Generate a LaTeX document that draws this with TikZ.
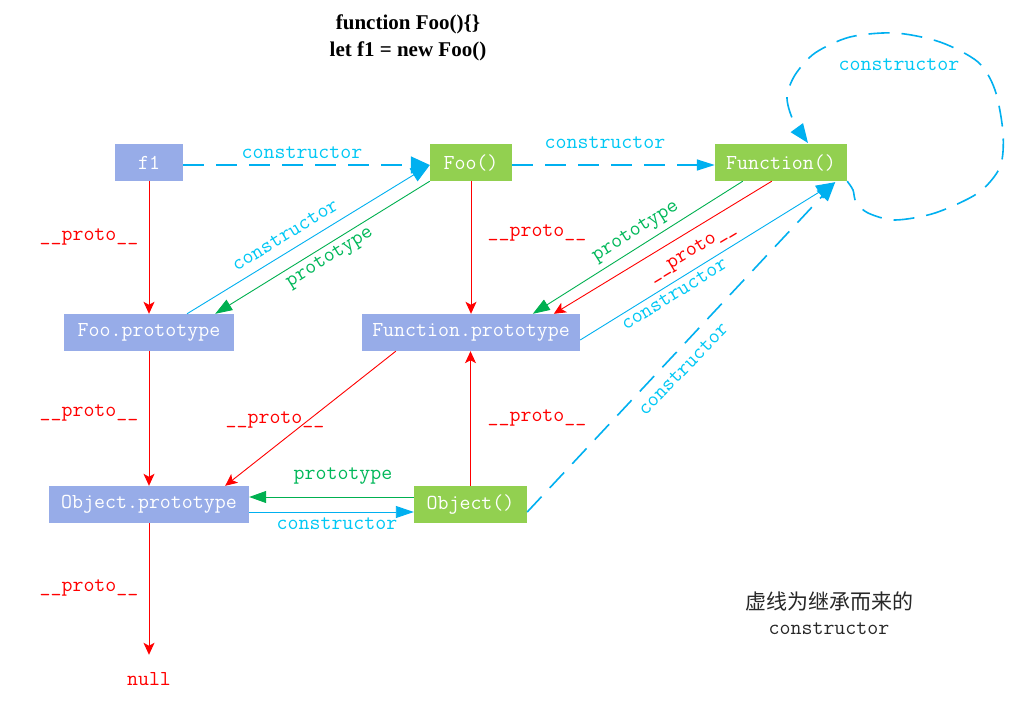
\documentclass[tikz,border=0pt]{standalone}
\usepackage{fontspec}
\newfontfamily\titlefont{Liberation Serif}
\newfontfamily\cjkfont{Noto Sans CJK SC}
\usetikzlibrary{arrows.meta}
\definecolor{boxblue}{RGB}{151,172,232}
\definecolor{boxgreen}{RGB}{146,208,80}
\definecolor{lncyan}{RGB}{0,176,240}
\definecolor{labcyan}{RGB}{0,200,245}
\definecolor{lngreen}{RGB}{0,176,80}
\definecolor{labgreen}{RGB}{0,184,90}
\definecolor{lnred}{RGB}{255,0,0}
\definecolor{notegray}{RGB}{40,40,40}
\begin{document}
\begin{tikzpicture}[x=1pt,y=-1pt,
  mono/.style={font=\fontsize{21.3}{24}\selectfont\ttfamily},
  protobox/.style={mono,fill=boxblue,text=white,minimum height=37pt,inner sep=0pt},
  funcbox/.style={mono,fill=boxgreen,text=white,minimum height=37pt,inner sep=0pt},
  cyanlab/.style={mono,text=labcyan,inner sep=0pt},
  greenlab/.style={mono,text=labgreen,inner sep=0pt},
  redlab/.style={mono,text=lnred,inner sep=0pt},
  redarrow/.style={draw=lnred,line width=0.9pt,-{Stealth[length=12pt,width=11pt,inset=3pt]}},
  cyanarrow/.style={draw=lncyan,line width=0.9pt,-{Triangle[length=19pt,width=15pt]}},
  greenarrow/.style={draw=lngreen,line width=0.9pt,-{Triangle[length=17pt,width=12pt]}},
  inherit/.style={draw=lncyan,line width=1.6pt,dash pattern=on 21pt off 12pt},
]
\fill[white] (0,0) rectangle (1018,722);
\useasboundingbox (0,0) rectangle (1018,722);

% title
\node[font=\titlefont\bfseries\fontsize{21}{27}\selectfont,align=center,inner sep=0pt] (title) at (408,38)
  {function Foo()\{\}\\let f1 = new Foo()};

% nodes
\node[protobox,minimum width=68pt] (f1) at (149,162.5) {f1};
\node[funcbox,minimum width=82pt] (foo) at (471,162.5) {Foo()};
\node[funcbox,minimum width=132pt] (fn) at (781,162.5) {Function()};
\node[protobox,minimum width=170pt] (foop) at (149,332.5) {Foo.prototype};
\node[protobox,minimum width=218pt] (fnp) at (471,332.5) {Function.prototype};
\node[protobox,minimum width=200pt] (objp) at (149,504.5) {Object.prototype};
\node[funcbox,minimum width=113pt] (obj) at (470.5,504.5) {Object()};
\node[mono,text=lnred,anchor=base,inner sep=0pt] (null) at (149,685) {null};

% dashed inherited constructors
\draw[inherit,-{Triangle[length=19pt,width=17pt]}] ([yshift=-2.5pt]f1.east) -- ([yshift=-2.5pt]foo.west);
\draw[inherit,-{Triangle[length=18pt,width=11pt]}] ([yshift=-2.5pt]foo.east) -- ([yshift=-2.5pt]fn.west);
\draw[inherit,-{Triangle[length=19pt,width=15pt]}] ([yshift=-7.5pt]obj.east) -- ([xshift=-12pt,yshift=-1pt]fn.south east);
\draw[inherit,-{Triangle[length=19pt,width=15pt]}] plot[smooth] coordinates {(fn.south east) (853,190) (856,202) (868,213) (895,220) (935,213) (978,193) (1000,167) (1003,133) (995,90) (978,62) (940,42) (895,33) (850,37) (815,53) (795,75) (787,97) (793,120) (808,143)};

% solid connectors
\draw[redarrow] (f1.south) -- (foop.north);
\draw[greenarrow] (foo.south west) -- ([xshift=-19pt]foop.north east);
\draw[cyanarrow] ([xshift=38pt]foop.north) -- ([yshift=-2.5pt]foo.west);
\draw[redarrow] (foo.south) -- (fnp.north);
\draw[greenarrow] ([xshift=28pt]fn.south west) -- ([xshift=171pt]fnp.north west);
\draw[redarrow] ([xshift=57pt]fn.south west) -- ([xshift=192pt]fnp.north west);
\draw[cyanarrow] ([yshift=-7.5pt]fnp.east) -- ([xshift=-12pt,yshift=-1pt]fn.south east);
\draw[redarrow] ([xshift=34pt]fnp.south west) -- ([xshift=-24pt]objp.north east);
\draw[redarrow] (obj.north) -- (obj.north |- fnp.south);
\draw[redarrow] (foop.south) -- (objp.north);
\draw[greenarrow] ([yshift=7.5pt]obj.west) -- ([yshift=7.5pt]objp.east);
\draw[cyanarrow,-{Triangle[length=18pt,width=12pt]}] ([yshift=-7.5pt]objp.east) -- ([yshift=-7.5pt]obj.west);
\draw[redarrow] (objp.south) -- ([yshift=17pt]null.north);

% labels
\node[cyanlab] (l1) at (302,153) {constructor};
\node[cyanlab] (l2) at (605,143) {constructor};
\node[cyanlab] (l3) at (899,65) {constructor};
\node[cyanlab,rotate=31.5] (l4) at (285,235) {constructor};
\node[greenlab,rotate=32] (l5) at (330,258) {prototype};
\node[greenlab,rotate=32.5] (l6) at (636,232) {prototype};
\node[redlab,rotate=31] (l7) at (692,252) {\_\_proto\_\_};
\node[cyanlab,rotate=31.8] (l8) at (674,294) {constructor};
\node[cyanlab,rotate=46] (l9) at (683,369) {constructor};
\node[redlab] (p1) at (89,237) {\_\_proto\_\_};
\node[redlab] (p2) at (537,233) {\_\_proto\_\_};
\node[redlab] (p3) at (89,413) {\_\_proto\_\_};
\node[redlab] (p4) at (275,420) {\_\_proto\_\_};
\node[redlab] (p5) at (537,418) {\_\_proto\_\_};
\node[redlab] (p6) at (89,588) {\_\_proto\_\_};
\node[greenlab] (l10) at (343,476) {prototype};
\node[cyanlab] (l11) at (337,524) {constructor};

% note
\node[font=\cjkfont\fontsize{21}{24}\selectfont,text=notegray,inner sep=0pt] (note1) at (829,601) {虚线为继承而来的};
\node[mono,text=notegray,inner sep=0pt] (note2) at (829,629) {constructor};
\end{tikzpicture}
\end{document}
